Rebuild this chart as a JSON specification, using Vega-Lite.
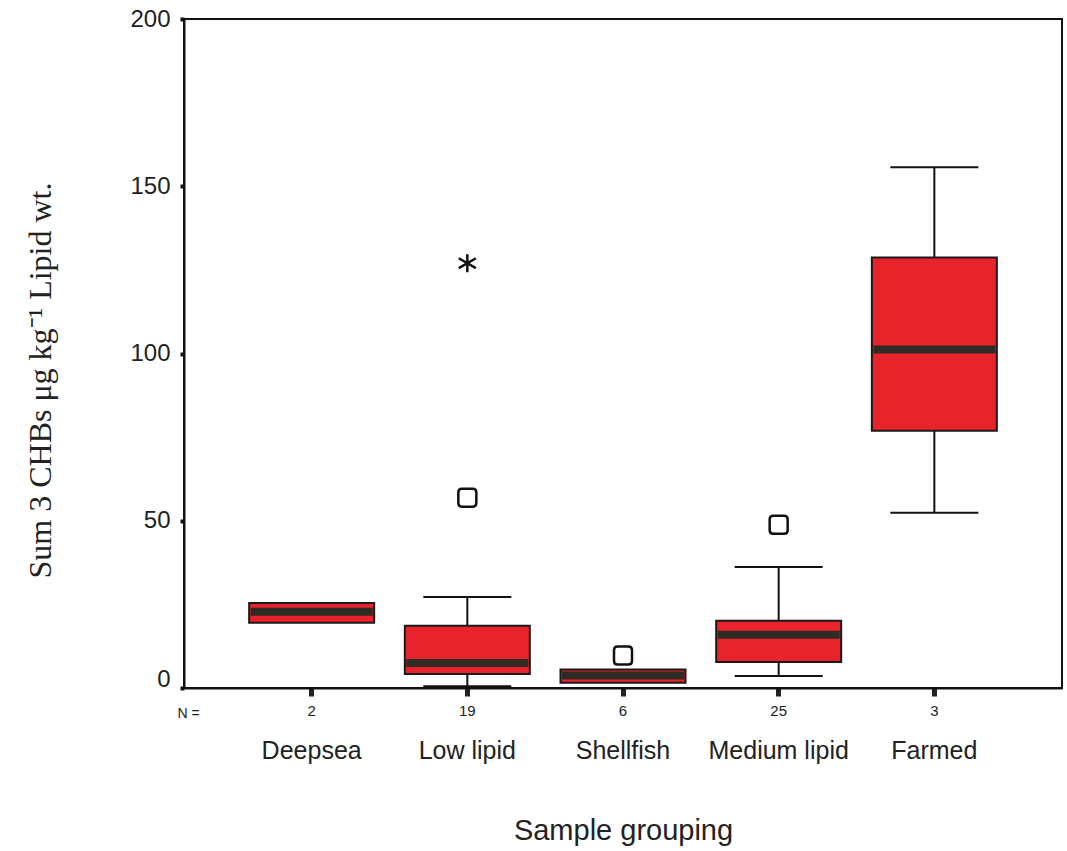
{
  "$schema": "https://vega.github.io/schema/vega-lite/v6.json",
  "width": 878,
  "height": 669,
  "autosize": {"type": "none"},
  "padding": {"left": 184, "top": 19, "right": 5, "bottom": 163},
  "background": "white",
  "config": {
    "view": {"stroke": "#111111", "strokeWidth": 2},
    "font": "Liberation Sans",
    "axis": {"grid": false, "domainColor": "#111111", "domainWidth": 2, "tickColor": "#111111", "labelColor": "#222222", "titleColor": "#222222", "titleFontWeight": "normal"}
  },
  "datasets": {
    "boxes": [
      {"group": "Deepsea", "n": 2, "q1": 19.5, "median": 22.8, "q3": 25.4, "lower": null, "upper": null},
      {"group": "Low lipid", "n": 19, "q1": 4.2, "median": 7.5, "q3": 18.6, "lower": 0.5, "upper": 27.2},
      {"group": "Shellfish", "n": 6, "q1": 1.6, "median": 3.7, "q3": 5.5, "lower": null, "upper": null},
      {"group": "Medium lipid", "n": 25, "q1": 7.8, "median": 15.9, "q3": 20.1, "lower": 3.6, "upper": 36.2},
      {"group": "Farmed", "n": 3, "q1": 76.9, "median": 101.2, "q3": 128.7, "lower": 52.4, "upper": 155.7}
    ],
    "outliers": [
      {"group": "Low lipid", "value": 56.9, "kind": "outlier"},
      {"group": "Low lipid", "value": 127.0, "kind": "extreme"},
      {"group": "Shellfish", "value": 9.7, "kind": "outlier"},
      {"group": "Medium lipid", "value": 48.8, "kind": "outlier"}
    ]
  },
  "resolve": {"axis": {"x": "independent"}},
  "layer": [
    {
      "data": {"name": "boxes"},
      "mark": {"type": "rule", "color": "#111111", "strokeWidth": 2},
      "encoding": {
        "x": {"field": "group", "type": "nominal", "sort": ["Deepsea", "Low lipid", "Shellfish", "Medium lipid", "Farmed"],
          "scale": {"type": "band", "domain": ["Deepsea", "Low lipid", "Shellfish", "Medium lipid", "Farmed"], "paddingInner": 0, "paddingOuter": 0.32},
          "axis": {"orient": "bottom", "title": "N =", "titleFontSize": 14, "titleX": 4, "titleY": 25, "titleAlign": "center", "titleBaseline": "middle",
            "labelExpr": "{'Deepsea':'2','Low lipid':'19','Shellfish':'6','Medium lipid':'25','Farmed':'3'}[datum.value]",
            "labelFontSize": 15, "labelAngle": 0, "labelPadding": 7, "tickSize": 8, "tickWidth": 5, "tickColor": "#222222", "domain": true}},
        "y": {"field": "lower", "type": "quantitative",
          "scale": {"domain": [0, 200], "nice": false},
          "axis": {"title": "Sum 3 CHBs μg kg⁻¹ Lipid wt.", "titleFont": "Liberation Serif", "titleFontSize": 32, "titleX": -144, "titleY": 361, "titleAngle": -90, "titleAlign": "center", "titleBaseline": "middle",
            "values": [0, 50, 100, 150, 200], "labelFontSize": 24, "labelPadding": 10, "tickSize": 4, "tickWidth": 4,
            "labelOffset": {"condition": {"test": "datum.value == 0", "value": -9}, "value": 0}}},
        "y2": {"field": "upper"}
      }
    },
    {
      "data": {"name": "boxes"},
      "mark": {"type": "bar", "size": 125, "fill": "#e8232b", "stroke": "#1a1a1a", "strokeWidth": 2},
      "encoding": {
        "x": {"field": "group", "type": "nominal",
          "axis": {"orient": "bottom", "title": "Sample grouping", "titleFontSize": 29, "titleY": 142, "titleBaseline": "middle",
            "labelFontSize": 25, "labelAngle": 0, "labelPadding": 50, "ticks": false, "domain": false}},
        "y": {"field": "q1", "type": "quantitative"},
        "y2": {"field": "q3"}
      }
    },
    {
      "data": {"name": "boxes"},
      "mark": {"type": "tick", "size": 122, "thickness": 8, "color": "#2f2a22", "opacity": 1},
      "encoding": {
        "x": {"field": "group", "type": "nominal", "axis": null},
        "y": {"field": "median", "type": "quantitative"}
      }
    },
    {
      "data": {"name": "boxes"},
      "mark": {"type": "tick", "size": 88, "thickness": 2, "color": "#111111", "opacity": 1},
      "encoding": {
        "x": {"field": "group", "type": "nominal", "axis": null},
        "y": {"field": "lower", "type": "quantitative"}
      }
    },
    {
      "data": {"name": "boxes"},
      "mark": {"type": "tick", "size": 88, "thickness": 2, "color": "#111111", "opacity": 1},
      "encoding": {
        "x": {"field": "group", "type": "nominal", "axis": null},
        "y": {"field": "upper", "type": "quantitative"}
      }
    },
    {
      "data": {"name": "outliers"},
      "mark": {"type": "point", "filled": false, "stroke": "#111111", "strokeWidth": 2.5, "size": 324, "opacity": 1},
      "encoding": {
        "x": {"field": "group", "type": "nominal", "axis": null},
        "y": {"field": "value", "type": "quantitative"},
        "shape": {"field": "kind", "type": "nominal", "legend": null,
          "scale": {"domain": ["outlier", "extreme"],
            "range": ["M -0.6 -1 L 0.6 -1 Q 1 -1 1 -0.6 L 1 0.6 Q 1 1 0.6 1 L -0.6 1 Q -1 1 -1 0.6 L -1 -0.6 Q -1 -1 -0.6 -1 Z",
                      "M 0 -1 L 0 1 M -0.95 -0.55 L 0.95 0.55 M -0.95 0.55 L 0.95 -0.55"]}}
      }
    }
  ]
}
